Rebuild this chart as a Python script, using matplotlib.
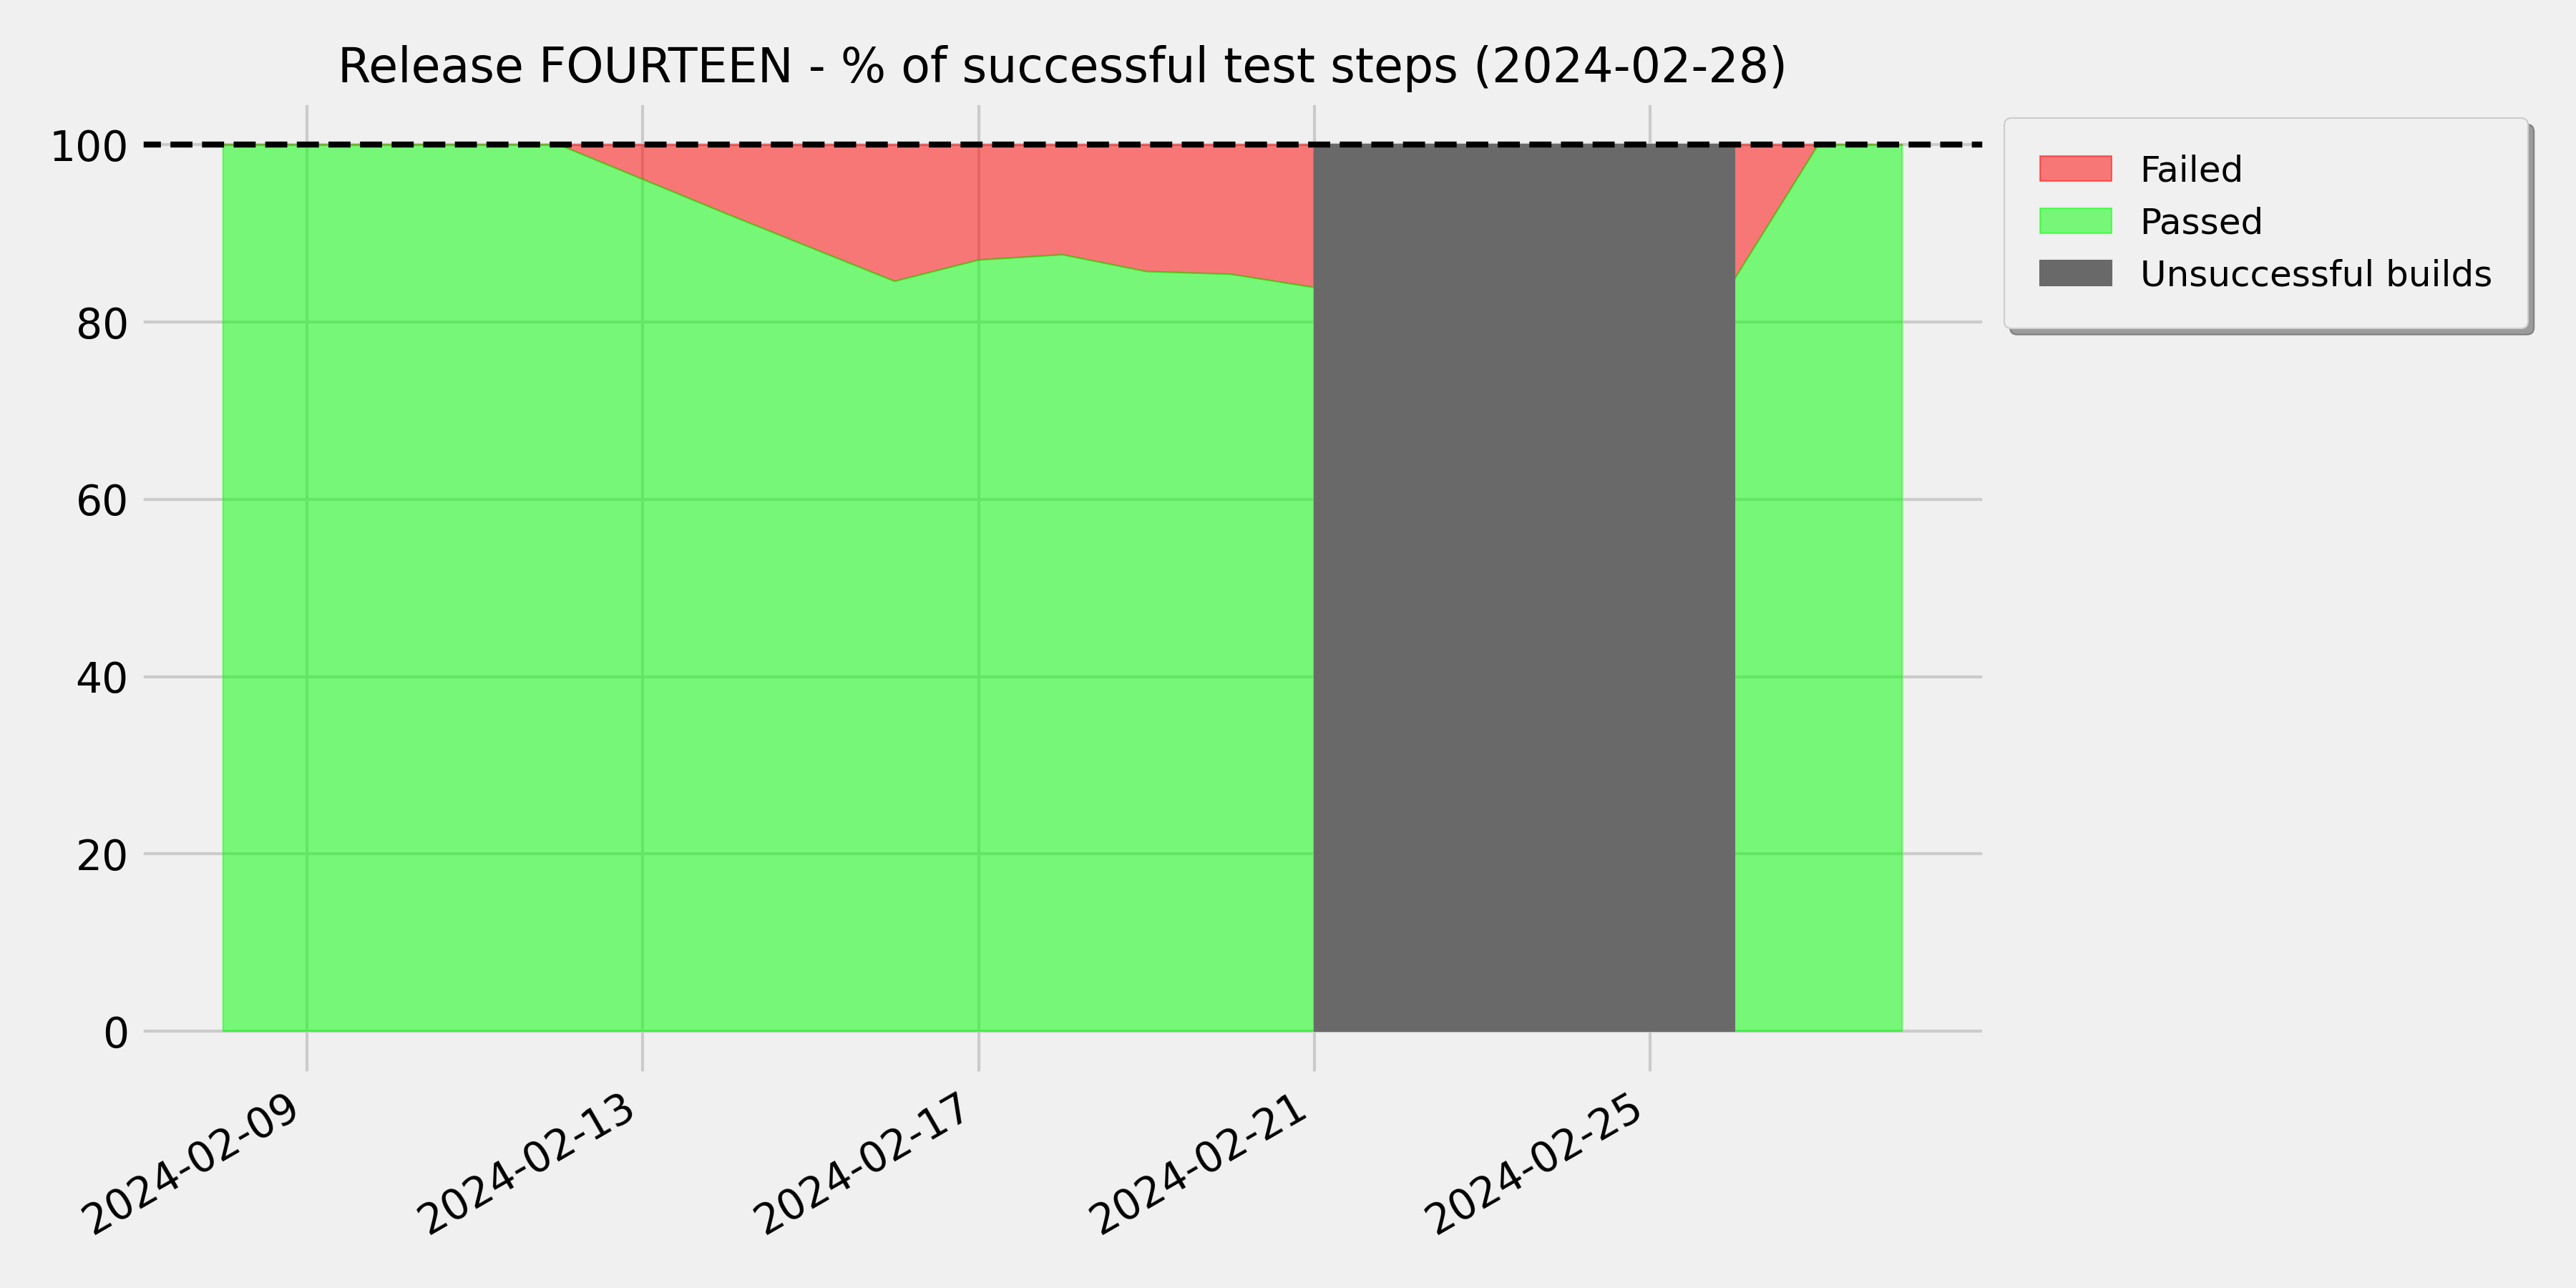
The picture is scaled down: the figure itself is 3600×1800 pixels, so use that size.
import numpy as np
import pandas as pd
import matplotlib
matplotlib.use("Agg")
import matplotlib.pyplot as plt
import matplotlib.dates as mdates

plt.style.use("fivethirtyeight")

# daily % of passed test steps (NaN = hidden under unsuccessful builds)
dates = pd.date_range("2024-02-08", "2024-02-28", freq="D")
passed = [100, 100, 100, 100, 100, 96.1, 92.2, 88.4, 84.6, 87.0, 87.6,
          85.7, 85.4, 83.9, np.nan, np.nan, np.nan, np.nan, 84.8, 100, 100]
unsuccessful = [0, 0, 0, 0, 0, 0, 0, 0, 0, 0, 0,
                0, 0, 1, 1, 1, 1, 1, 1, 0, 0]
tick_dates = pd.to_datetime(["2024-02-09", "2024-02-13", "2024-02-17",
                             "2024-02-21", "2024-02-25"])
title = "Release FOURTEEN - % of successful test steps (2024-02-28)"

passed = np.array(passed, dtype=float)
bad = np.array(unsuccessful, dtype=bool)

fig, ax = plt.subplots(figsize=(12, 6))

ax.fill_between(dates, passed, 100, color="red", alpha=0.5, label="Failed")
ax.fill_between(dates, passed, color="lime", alpha=0.5, label="Passed")
ax.fill_between(dates, 0, 100, where=bad, color="dimgray",
                label="Unsuccessful builds")
ax.axhline(100, color="black", linestyle="--", linewidth=2)

ax.set_xticks(tick_dates)
ax.xaxis.set_major_formatter(mdates.DateFormatter("%Y-%m-%d"))
fig.autofmt_xdate()
ax.set_ylim(-5, 105)
ax.set_title(title, fontsize=16)
ax.legend(loc="upper left", bbox_to_anchor=(1.0, 1.0), shadow=True,
          fontsize=12, borderpad=1.0)

fig.subplots_adjust(left=0.054, right=0.771, top=0.922, bottom=0.165)
fig.savefig("out.png", dpi=300)
